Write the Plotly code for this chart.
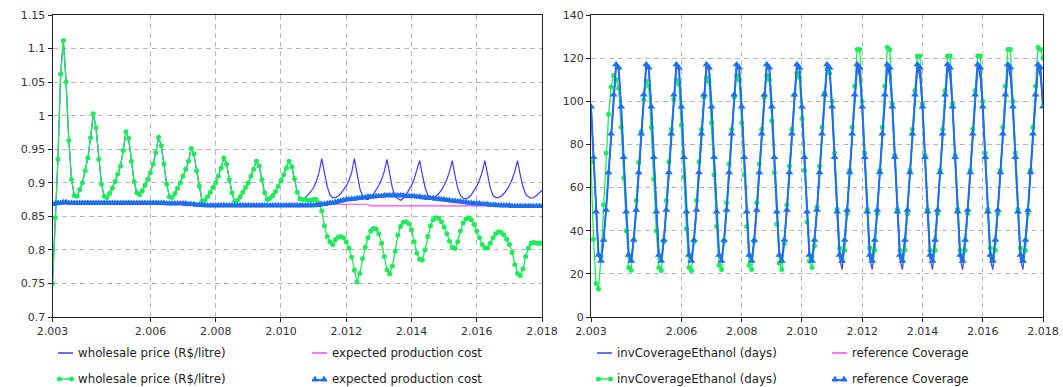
import plotly.graph_objects as go
from plotly.subplots import make_subplots

W, H = 1063, 387

# ---------------- time axis (monthly samples, 2003.0 .. 2018.0) ----------------
N = 181
time = [2003 + i / 12 for i in range(N)]

x_tickvals = [2003, 2006, 2008, 2010, 2012, 2014, 2016, 2018]
x_ticktext = ["2.003", "2.006", "2.008", "2.010", "2.012", "2.014", "2.016", "2.018"]
yl_tickvals = [0.7, 0.75, 0.8, 0.85, 0.9, 0.95, 1.0, 1.05, 1.1, 1.15]
yl_ticktext = ["0.7", "0.75", "0.8", "0.85", "0.9", "0.95", "1", "1.05", "1.1", "1.15"]
yr_tickvals = [0, 20, 40, 60, 80, 100, 120, 140]

# ---------------- left panel: wholesale price / expected production cost ----------------
price_run2 = [  # green dots
    0.750, 0.848, 0.935, 1.062, 1.112, 1.050, 0.963, 0.905, 0.881, 0.880, 0.890, 0.900,
    0.918, 0.937, 0.967, 1.003, 0.982, 0.935, 0.898, 0.880, 0.878, 0.884, 0.892, 0.902,
    0.913, 0.925, 0.948, 0.976, 0.966, 0.932, 0.902, 0.885, 0.882, 0.888, 0.896, 0.905,
    0.915, 0.928, 0.945, 0.968, 0.955, 0.928, 0.898, 0.879, 0.878, 0.884, 0.892, 0.900,
    0.910, 0.920, 0.932, 0.951, 0.943, 0.918, 0.895, 0.873, 0.874, 0.879, 0.886, 0.893,
    0.900, 0.910, 0.922, 0.937, 0.928, 0.905, 0.885, 0.872, 0.874, 0.879, 0.886, 0.893,
    0.900, 0.910, 0.920, 0.932, 0.925, 0.905, 0.885, 0.875, 0.877, 0.881, 0.887, 0.895,
    0.903, 0.912, 0.922, 0.932, 0.924, 0.906, 0.886, 0.876, 0.875, 0.875, 0.874, 0.874,
    0.875, 0.875, 0.870, 0.858, 0.836, 0.820, 0.812, 0.808, 0.815, 0.819, 0.820, 0.818,
    0.812, 0.803, 0.789, 0.770, 0.752, 0.765, 0.787, 0.804, 0.818, 0.828, 0.832, 0.831,
    0.824, 0.810, 0.790, 0.770, 0.764, 0.776, 0.798, 0.822, 0.835, 0.841, 0.842, 0.839,
    0.830, 0.812, 0.795, 0.786, 0.785, 0.800, 0.820, 0.836, 0.845, 0.848, 0.847, 0.842,
    0.834, 0.824, 0.813, 0.804, 0.802, 0.812, 0.828, 0.840, 0.846, 0.848, 0.845, 0.838,
    0.828, 0.818, 0.808, 0.803, 0.803, 0.810, 0.818, 0.824, 0.827, 0.826, 0.822, 0.816,
    0.808, 0.796, 0.778, 0.765, 0.762, 0.772, 0.790, 0.803, 0.810, 0.811, 0.810, 0.810,
    0.810,
]
price_run1_tail = [  # blue line from month 93 onwards (identical to green before)
    0.878, 0.882, 0.887,
    0.893, 0.902, 0.915, 0.936, 0.915, 0.895, 0.882, 0.878, 0.878, 0.880, 0.884, 0.889,
    0.895, 0.903, 0.915, 0.936, 0.912, 0.892, 0.880, 0.876, 0.875, 0.878, 0.883, 0.889,
    0.896, 0.905, 0.917, 0.935, 0.912, 0.892, 0.880, 0.876, 0.874, 0.877, 0.882, 0.888,
    0.896, 0.906, 0.918, 0.933, 0.912, 0.893, 0.882, 0.878, 0.878, 0.880, 0.884, 0.889,
    0.896, 0.905, 0.917, 0.933, 0.911, 0.892, 0.881, 0.877, 0.876, 0.878, 0.882, 0.888,
    0.895, 0.904, 0.916, 0.933, 0.911, 0.892, 0.881, 0.878, 0.878, 0.880, 0.884, 0.889,
    0.896, 0.905, 0.917, 0.933, 0.912, 0.894, 0.883, 0.879, 0.877, 0.878, 0.881, 0.885,
    0.889,
]
price_run1 = price_run2[:93] + price_run1_tail

cost_run2 = [  # blue triangles
    0.868, 0.869, 0.870, 0.870, 0.871, 0.871, 0.870, 0.870, 0.870, 0.870, 0.870, 0.870,
    0.870, 0.870, 0.870, 0.870, 0.870, 0.870, 0.870, 0.870, 0.870, 0.870, 0.870, 0.870,
    0.870, 0.870, 0.870, 0.870, 0.870, 0.870, 0.870, 0.870, 0.870, 0.870, 0.870, 0.870,
    0.870, 0.870, 0.870, 0.870, 0.870, 0.870, 0.869, 0.869, 0.869, 0.869, 0.869, 0.869,
    0.869, 0.869, 0.868, 0.868, 0.868, 0.867, 0.867, 0.867, 0.866, 0.866, 0.866, 0.866,
    0.866, 0.866, 0.866, 0.866, 0.866, 0.866, 0.866, 0.866, 0.866, 0.866, 0.866, 0.866,
    0.866, 0.866, 0.866, 0.866, 0.866, 0.866, 0.866, 0.866, 0.866, 0.866, 0.866, 0.866,
    0.866, 0.866, 0.866, 0.866, 0.866, 0.866, 0.866, 0.866, 0.866, 0.866, 0.866, 0.866,
    0.866, 0.867, 0.867, 0.868, 0.868, 0.869, 0.870, 0.870, 0.871, 0.872, 0.873, 0.874,
    0.875, 0.875, 0.876, 0.876, 0.877, 0.877, 0.878, 0.878, 0.879, 0.879, 0.879, 0.880,
    0.880, 0.880, 0.881, 0.881, 0.881, 0.881, 0.881, 0.881, 0.881, 0.881, 0.880, 0.880,
    0.880, 0.880, 0.879, 0.879, 0.878, 0.878, 0.877, 0.877, 0.877, 0.876, 0.876, 0.875,
    0.875, 0.874, 0.874, 0.873, 0.873, 0.872, 0.872, 0.871, 0.871, 0.870, 0.870, 0.869,
    0.869, 0.869, 0.868, 0.868, 0.868, 0.867, 0.867, 0.867, 0.866, 0.866, 0.866, 0.866,
    0.866, 0.865, 0.865, 0.865, 0.865, 0.865, 0.865, 0.865, 0.865, 0.865, 0.865, 0.865,
    0.865,
]
cost_run1 = (  # magenta line
    [0.869] * 48 + [0.866] * 49 + [0.868] * 20 + [0.8655] * 64
)

# ---------------- right panel: inventory coverage ----------------
ref_cov_run2 = [  # blue triangles
    97.5, 74, 48.8, 28.7, 26, 35.7, 49.6, 67, 85, 103, 117, 115.5,
    97.5, 74, 48.8, 28.7, 26, 35.7, 49.6, 67, 85, 103, 117, 115.5,
    97.5, 74, 48.8, 28.7, 26, 35.7, 49.6, 67, 85, 103, 117, 115.5,
    97.5, 74, 48.8, 28.7, 26, 35.7, 49.6, 67, 85, 103, 117, 115.5,
    97.5, 74, 48.8, 28.7, 26, 35.7, 49.6, 67, 85, 103, 117, 115.5,
    97.5, 74, 48.8, 28.7, 26, 35.7, 49.6, 67, 85, 103, 117, 115.5,
    97.5, 74, 48.8, 28.7, 26, 35.7, 49.6, 67, 85, 103, 117, 115.5,
    97.5, 74, 48.8, 28.7, 26, 35.7, 49.6, 67, 85, 103, 117, 115.5,
    97.5, 74, 48.8, 28.7, 26, 35.7, 49.6, 67, 85, 103, 117, 115.5,
    97.5, 74, 48.8, 28.7, 26, 35.7, 49.6, 67, 85, 103, 117, 115.5,
    97.5, 74, 48.8, 28.7, 26, 35.7, 49.6, 67, 85, 103, 117, 115.5,
    97.5, 74, 48.8, 28.7, 26, 35.7, 49.6, 67, 85, 103, 117, 115.5,
    97.5, 74, 48.8, 28.7, 26, 35.7, 49.6, 67, 85, 103, 117, 115.5,
    97.5, 74, 48.8, 28.7, 26, 35.7, 49.6, 67, 85, 103, 117, 115.5,
    97.5, 74, 48.8, 28.7, 26, 35.7, 49.6, 67, 85, 103, 117, 115.5,
    97.5,
]
inv_cov_run1_tail = [  # blue line from 2011 (identical to triangles before)
    97, 74, 48, 27, 22, 32, 49, 67, 85, 103, 117, 111,
    97, 74, 48, 27, 22, 32, 49, 67, 85, 103, 117, 111,
    97, 74, 48, 27, 22, 32, 49, 67, 85, 103, 117, 111,
    97, 74, 48, 27, 22, 32, 49, 67, 85, 103, 117, 111,
    97, 74, 48, 27, 22, 32, 49, 67, 85, 103, 117, 111,
    97, 74, 48, 27, 22, 32, 49, 67, 85, 103, 117, 111,
    97, 74, 48, 27, 22, 32, 49, 67, 85, 103, 117, 111,
    97,
]
inv_cov_run1 = ref_cov_run2[:96] + inv_cov_run1_tail
inv_cov_run2 = [  # green dots
    72, 36, 15.5, 13, 28, 52, 76, 94, 106.6, 112, 110, 106,
    88, 64.5, 40, 23, 21.7, 35.7, 54, 71.6, 86, 100.8, 109.3, 107,
    88, 64, 40, 23, 21.5, 35, 54, 72, 87, 101, 110, 108,
    89, 65, 41, 23, 21.5, 35, 54, 72, 87, 102, 111, 109,
    90, 66, 42, 24, 22, 35, 53, 71, 87, 102, 112, 110,
    90, 66, 42, 24, 22, 35, 53, 71, 87, 102, 112, 110,
    91, 67, 43, 25, 22, 34, 52, 70, 87, 103, 113, 111,
    92, 68, 44, 26, 23, 33, 51, 70, 88, 104, 115, 113,
    100, 76, 50, 32, 27, 31, 48, 68, 88, 107, 124, 124,
    100, 76, 50, 32, 26, 31, 48, 68, 88, 107, 125, 124,
    99, 75, 50, 31, 26, 31, 48, 68, 87, 105, 121, 121,
    99, 75, 50, 31, 26, 31, 48, 68, 87, 105, 121, 121,
    99, 75, 50, 31, 26, 31, 48, 68, 87, 105, 121, 121,
    100, 76, 50, 32, 26, 31, 48, 68, 88, 107, 124, 124,
    100, 76, 50, 32, 26, 31, 48, 68, 88, 107, 125, 124,
    120,
]

# ---------------- colours ----------------
C_BLUE = "rgb(60,60,250)"
C_MAG = "rgb(255,70,255)"
C_GREEN = "rgb(30,235,90)"
C_TRI = "rgb(30,110,240)"

fig = make_subplots(rows=1, cols=2)

def add_panel(col, line1, line2, dots, tris):
    fig.add_trace(go.Scatter(x=time, y=line1, mode="lines",
                             line=dict(color=C_BLUE, width=1.2), showlegend=False), row=1, col=col)
    fig.add_trace(go.Scatter(x=time, y=line2, mode="lines",
                             line=dict(color=C_MAG, width=1.2), showlegend=False), row=1, col=col)
    fig.add_trace(go.Scatter(x=time, y=dots, mode="lines+markers",
                             line=dict(color=C_GREEN, width=1.3),
                             marker=dict(color=C_GREEN, size=5, line=dict(width=0)),
                             showlegend=False), row=1, col=col)
    fig.add_trace(go.Scatter(x=time, y=tris, mode="lines+markers",
                             line=dict(color=C_TRI, width=2),
                             marker=dict(color=C_TRI, size=7, symbol="triangle-up", line=dict(width=0)),
                             showlegend=False), row=1, col=col)

add_panel(1, price_run1, cost_run1, price_run2, cost_run2)
add_panel(2, inv_cov_run1, ref_cov_run2, inv_cov_run2, ref_cov_run2)

ydom = [1 - 317 / H, 1 - 15 / H]
axis_common = dict(showline=True, linecolor="#222", linewidth=1, mirror=True,
                   ticks="outside", ticklen=4, tickcolor="#222", automargin=False,
                   showgrid=True, gridcolor="#b8b8b8", gridwidth=1, griddash="5px,4px",
                   zeroline=False, tickfont=dict(family="DejaVu Sans", size=11, color="#333"))

fig.update_xaxes(range=[2003, 2018], tickvals=x_tickvals, ticktext=x_ticktext, **axis_common)
fig.update_xaxes(domain=[52.5 / W, 542 / W], row=1, col=1)
fig.update_xaxes(domain=[591 / W, 1043 / W], row=1, col=2)
fig.update_yaxes(domain=ydom, **axis_common)
fig.update_yaxes(range=[0.7, 1.15], tickvals=yl_tickvals, ticktext=yl_ticktext, row=1, col=1)
fig.update_yaxes(range=[0, 140], tickvals=yr_tickvals, row=1, col=2)

# ---------------- manual legends ----------------
shapes = []
annotations = []

def px(x):
    return x / W

def py(y):
    return 1 - y / H

def leg_line(x0, y, color, width=1.5):
    shapes.append(dict(type="line", xref="paper", yref="paper", x0=px(x0), x1=px(x0 + 15),
                       y0=py(y), y1=py(y), line=dict(color=color, width=width)))

def leg_dots(x0, y):
    leg_line(x0, y, C_GREEN, 1.5)
    for xc in (x0 + 1.5, x0 + 13.5):
        shapes.append(dict(type="circle", xref="paper", yref="paper", xsizemode="pixel",
                           ysizemode="pixel", xanchor=px(xc), yanchor=py(y),
                           x0=-2.5, x1=2.5, y0=-2.5, y1=2.5, fillcolor=C_GREEN,
                           line=dict(width=0)))

def leg_tris(x0, y):
    leg_line(x0, y + 1, C_TRI, 2)
    for xc in (x0 + 3, x0 + 12):
        shapes.append(dict(type="path", xref="paper", yref="paper", xsizemode="pixel",
                           ysizemode="pixel", xanchor=px(xc), yanchor=py(y),
                           path="M -3.5 -2.5 L 3.5 -2.5 L 0 3.5 Z", fillcolor=C_TRI,
                           line=dict(width=0)))

def leg_text(x, y, text):
    annotations.append(dict(text=text, xref="paper", yref="paper", x=px(x), y=py(y),
                            xanchor="left", yanchor="middle", showarrow=False,
                            font=dict(family="DejaVu Sans", size=11.8, color="#222")))

ROW1, ROW2 = 353, 379
# left panel legend
leg_line(58, ROW1, C_BLUE)
leg_text(76, ROW1, "wholesale price (R$/litre)")
leg_line(312, ROW1, C_MAG)
leg_text(330, ROW1, "expected production cost")
leg_dots(58, ROW2)
leg_text(76, ROW2, "wholesale price (R$/litre)")
leg_tris(312, ROW2)
leg_text(330, ROW2, "expected production cost")
# right panel legend
leg_line(597, ROW1, C_BLUE)
leg_text(615, ROW1, "invCoverageEthanol (days)")
leg_line(832, ROW1, C_MAG)
leg_text(850, ROW1, "reference Coverage")
leg_dots(597, ROW2)
leg_text(615, ROW2, "invCoverageEthanol (days)")
leg_tris(832, ROW2)
leg_text(850, ROW2, "reference Coverage")

fig.update_layout(template="none", width=W, height=H,
                  margin=dict(l=0, r=0, t=0, b=0, pad=0, autoexpand=False),
                  paper_bgcolor="white", plot_bgcolor="white",
                  shapes=shapes, annotations=annotations, showlegend=False)

fig.write_html("out.html", config={"displayModeBar": False},
               post_script="document.body.style.margin='0';document.body.style.overflow='hidden';")
